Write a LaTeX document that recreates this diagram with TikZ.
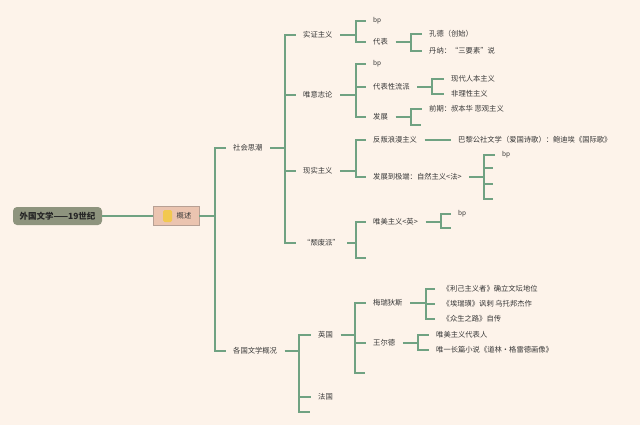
\documentclass[tikz,border=0pt]{standalone}
\usepackage{fontspec}
\setmainfont{Noto Sans CJK SC}
\definecolor{bg}{RGB}{253,243,234}
\definecolor{ln}{RGB}{112,162,130}
\definecolor{txt}{RGB}{55,55,55}
\definecolor{rootc}{RGB}{142,148,126}
\definecolor{gsc}{RGB}{235,196,176}
\definecolor{gsb}{RGB}{183,160,148}
\definecolor{icon}{RGB}{242,200,80}
\newcommand\mmbranch[3]{%
  \coordinate (v#1) at (#2,0);
  \draw[br] (#1.east) -- (v#1 |- #1.east);
  \foreach \chn in {#3} {\draw[br] (v#1 |- #1.east) |- (\chn.west);}
}
\begin{document}
\begin{tikzpicture}[x=1pt,y=-1pt,
  lbl/.style={anchor=west,inner xsep=7.5pt,inner ysep=1pt,font=\fontsize{7.3}{8}\selectfont,text=txt},
  bpl/.style={lbl,font=\fontsize{6.5}{7}\selectfont},
  emp/.style={inner sep=0pt,minimum size=0pt,outer sep=0pt},
  br/.style={draw=ln,line width=1.1pt}]
\fill[bg] (0,0) rectangle (640,425);
\useasboundingbox (0,0) rectangle (640,425);

\node[fill=rootc,rounded corners=4pt,minimum width=89pt,minimum height=18pt,inner sep=0pt,
  font=\bfseries\fontsize{8.5}{9}\selectfont,text=black!85] (root) at (57.5,216) {外国文学——19世纪};
\node[fill=gsc,draw=gsb,line width=0.8pt,minimum width=46pt,minimum height=19pt,inner sep=0pt,
  font=\fontsize{7.3}{8}\selectfont,text=txt] (gs) at (176,216) {\hspace{16pt}概述};
\fill[icon,rounded corners=1.5pt] (163,210) rectangle (172,222);

\node[lbl] (shsc) at (225.5,148) {社会思潮};
\node[lbl] (gg) at (225.5,351) {各国文学概况};
\node[lbl] (szzy) at (295.5,35) {实证主义};
\node[lbl] (wyzl) at (295.5,95) {唯意志论};
\node[lbl] (xszy) at (295.5,171) {现实主义};
\node[lbl] (tfp) at (295.5,243) {“颓废派”};
\node[bpl] (bpa) at (365.5,21) {bp};
\node[lbl] (db) at (365.5,42) {代表};
\node[lbl] (kd) at (421.5,34) {孔德（创始）};
\node[lbl] (dn) at (421.5,51) {丹纳：“三要素”说};
\node[bpl] (bpb) at (365.5,64) {bp};
\node[lbl] (dbx) at (365.5,87) {代表性流派};
\node[lbl] (fz) at (365.5,117) {发展};
\node[lbl] (xd) at (443.5,79) {现代人本主义};
\node[lbl] (fl) at (443.5,94) {非理性主义};
\node[lbl] (qq) at (421.5,109) {前期：叔本华 悲观主义};
\node[emp] (ea) at (421,125) {};
\node[lbl] (fp) at (365.5,140) {反叛浪漫主义};
\node[lbl] (bl) at (450.5,140) {巴黎公社文学（爱国诗歌）：鲍迪埃《国际歌》};
\node[lbl] (zr) at (365.5,177) {发展到极端：自然主义<法>};
\node[bpl] (bpc) at (494.5,155) {bp};
\node[emp] (eb) at (493,168) {};
\node[emp] (ec) at (493,184) {};
\node[emp] (ed) at (493,199) {};
\node[lbl] (wm) at (365.5,222) {唯美主义<英>};
\node[emp] (ee) at (366,258) {};
\node[bpl] (bpd) at (450.5,214) {bp};
\node[emp] (ef) at (451,228) {};
\node[lbl] (yg) at (310.5,335) {英国};
\node[lbl] (fg) at (310.5,397) {法国};
\node[emp] (eg) at (310,412) {};
\node[lbl] (mr) at (365.5,303) {梅瑞狄斯};
\node[lbl] (wed) at (365.5,343) {王尔德};
\node[emp] (eh) at (365,373) {};
\node[lbl] (ma) at (435,289) {《利己主义者》确立文坛地位};
\node[lbl] (mb) at (435,304) {《埃瑞璜》讽刺 乌托邦杰作};
\node[lbl] (mc) at (435,319) {《众生之路》自传};
\node[lbl] (wa) at (428.5,335) {唯美主义代表人};
\node[lbl] (wb) at (428.5,350) {唯一长篇小说《道林·格雷德画像》};

\draw[br] (root.east) -- (gs.west);
\mmbranch{gs}{215}{shsc,gg}
\mmbranch{shsc}{285}{szzy,wyzl,xszy,tfp}
\mmbranch{szzy}{356}{bpa,db}
\mmbranch{db}{411}{kd,dn}
\mmbranch{wyzl}{356}{bpb,dbx,fz}
\mmbranch{dbx}{432}{xd,fl}
\mmbranch{fz}{411}{qq,ea}
\mmbranch{xszy}{356}{fp,zr}
\mmbranch{fp}{436}{bl}
\mmbranch{zr}{484}{bpc,eb,ec,ed}
\mmbranch{tfp}{356}{wm,ee}
\mmbranch{wm}{441}{bpd,ef}
\mmbranch{gg}{299}{yg,fg,eg}
\mmbranch{yg}{355}{mr,wed,eh}
\mmbranch{mr}{426}{ma,mb,mc}
\mmbranch{wed}{418}{wa,wb}
\end{tikzpicture}
\end{document}
